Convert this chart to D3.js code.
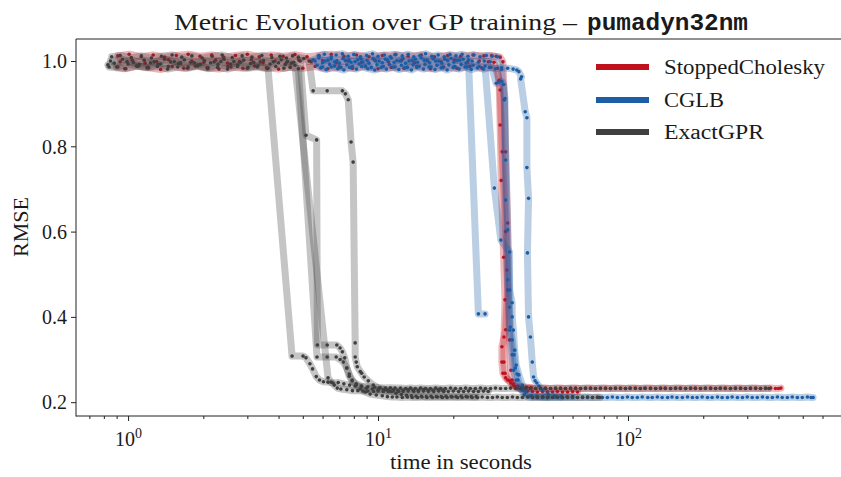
<!DOCTYPE html>
<html>
<head>
<meta charset="utf-8">
<script src="https://cdn.jsdelivr.net/npm/d3@7"></script>
<style>
  body { margin: 0; background: #fff; }
  svg text { font-family: "Liberation Serif", "Times New Roman", serif; fill: #1a1a1a; }
</style>
</head>
<body>
<svg id="chart" width="841" height="477"></svg>
<script>
// ---- Labels ----
const titleText = "Metric Evolution over GP training –";
const datasetName = "pumadyn32nm";
const xLabel = "time in seconds";
const yLabel = "RMSE";
const methods = ["StoppedCholesky", "CGLB", "ExactGPR"];
const methodColors = ["#c0121d", "#1b5ea6", "#3f3f3f"];
const yTicks = [0.2, 0.4, 0.6, 0.8, 1.0];
const xMajorTicks = [1, 10, 100];
const xMajorExponents = ["0", "1", "2"];
const xMinorTicks = [0.7, 0.8, 0.9, 2, 3, 4, 5, 6, 7, 8, 9, 20, 30, 40, 50, 60, 70, 80, 90, 200, 300, 400, 500, 600];

// ---- StoppedCholesky runs: [seconds, RMSE] ----
const cholRun1 = [[0.91,1.012],[1.01,1.016],[1.13,1.01],[1.26,1.014],[1.4,1.009],[1.56,1.013],[1.74,1.016],[1.94,1.011],[2.16,1.014],[2.41,1.009],[2.69,1.013],[3.0,1.016],[3.35,1.01],[3.74,1.014],[4.17,1.011],[4.65,1.015],[5.2,1.01],[5.8,1.013],[6.5,1.016],[7.3,1.011],[8.2,1.014],[9.2,1.01],[10.4,1.013],[11.7,1.015],[13.2,1.011],[14.9,1.014],[16.8,1.01],[19.0,1.013],[21.4,1.011],[24.0,1.014],[26.5,1.012],[28.5,1.013],[29.7,1.011],
  [30.8,1.009],[31.6,0.998],[32.0,0.909],[32.4,0.787],[33.0,0.62],[33.2,0.463],[33.6,0.346],[34.0,0.275],[34.4,0.252],[34.8,0.24],[35.7,0.236],[37.0,0.233],
  [38.9,0.232],[40.7,0.233],[42.7,0.232],[44.7,0.232],[46.8,0.233],[49.0,0.232],[51.3,0.232],[53.7,0.233],[56.2,0.232],[58.9,0.232],[61.7,0.233],[64.6,0.232],[67.6,0.232],[70.8,0.233],[74.1,0.232],[77.6,0.232],[81.3,0.233],[85.1,0.232],[89.1,0.232],[93.3,0.233],[97.7,0.232],[102,0.232],[107,0.233],[112,0.232],[117,0.232],[123,0.233],[129,0.232],[135,0.232],[141,0.233],[148,0.232],[155,0.232],[162,0.233],[170,0.232],[178,0.232],[186,0.233],[195,0.232],[204,0.232],[214,0.233],[224,0.232],[234,0.232],[245,0.233],[257,0.232],[269,0.232],[282,0.233],[295,0.232],[309,0.232],[324,0.233],[339,0.232],[355,0.232],[372,0.233],[389,0.232],[400,0.232],[409,0.233]];
const cholRun2 = [[0.93,0.998],[1.04,1.002],[1.17,0.995],[1.3,0.999],[1.45,1.003],[1.62,0.996],[1.8,1.0],[2.01,0.997],[2.24,1.002],[2.5,0.995],[2.79,0.999],[3.11,1.003],[3.47,0.996],[3.87,1.0],[4.32,0.997],[4.82,1.002],[5.4,0.998],[6.0,1.001],[6.8,0.996],[7.6,1.0],[8.6,0.997],[9.7,1.002],[11.0,0.998],[12.4,1.001],[14.0,0.996],[15.8,1.0],[17.9,0.998],[20.2,1.002],[22.8,0.997],[25.4,1.0],[27.6,0.998],[29.1,0.997],
  [30.5,0.955],[30.8,0.85],[31.1,0.72],[31.8,0.54],[32.2,0.44],[31.9,0.353],[31.9,0.294],[32.2,0.268],[33.0,0.252],[34.0,0.245],[35.1,0.238],[36.5,0.232],[38.0,0.228],[39.6,0.226],
  [41.5,0.225],[43.4,0.224],[45.5,0.225],[47.6,0.224],[49.9,0.224],[52.2,0.225],[54.7,0.224],[57.3,0.224],[60.0,0.225],[62.8,0.224]];
const cholRun3 = [[0.9,0.986],[0.98,0.982],[1.09,0.988],[1.21,0.984],[1.35,0.98],[1.5,0.987],[1.67,0.983],[1.86,0.988],[2.07,0.984],[2.31,0.981],[2.58,0.986],[2.88,0.983],[3.21,0.988],[3.58,0.984],[4.0,0.981],[4.46,0.986],[5.0,0.983],[5.6,0.987],[6.3,0.982],[7.0,0.986],[7.9,0.983],[8.9,0.987],[10.0,0.982],[11.3,0.985],[12.7,0.983],[14.3,0.987],[16.2,0.982],[18.3,0.986],[20.7,0.983],[23.3,0.987],[26.0,0.984],[28.2,0.985],[30.0,0.983],
  [30.8,0.932],[31.4,0.787],[32.4,0.6],[32.8,0.51],[33.0,0.463],[32.4,0.37],[31.3,0.33],[31.3,0.294],[31.6,0.268],[32.4,0.257],[33.6,0.25],[34.8,0.243],[36.3,0.238],[37.8,0.236],[39.4,0.235],[41.0,0.234]];

// ---- CGLB runs ----
const cglbRun1 = [[5.5,1.003],[5.81,1.007],[6.14,1.0],[6.49,1.005],[6.85,1.001],[7.24,1.006],[7.66,1.002],[8.09,0.999],[8.55,1.005],[9.04,1.001],[9.55,1.006],[10.1,1.0],[10.7,1.004],[11.3,1.007],[11.9,1.001],[12.6,1.005],[13.3,1.0],[14.1,1.004],[14.9,1.007],[15.7,1.002],[16.6,1.005],[17.5,1.0],[18.5,1.004],[19.6,1.006],[20.7,1.001],[21.9,1.004],[23.0,1.002],
  [25.2,0.407],[26.8,0.407]];
const cglbRun2 = [[5.7,0.99],[6.0,0.986],[6.4,0.992],[6.7,0.988],[7.1,0.985],[7.5,0.991],[7.9,0.987],[8.4,0.993],[8.9,0.988],[9.4,0.985],[9.9,0.991],[10.5,0.987],[11.1,0.992],[11.7,0.986],[12.4,0.99],[13.1,0.985],[13.8,0.991],[14.6,0.987],[15.4,0.992],[16.3,0.986],[17.2,0.99],[18.2,0.985],[19.2,0.991],[20.3,0.987],[21.5,0.992],[22.7,0.986],[24.0,0.99],[25.4,0.987],[26.8,0.988],
  [29.2,0.702],[31.0,0.58],[33.6,0.552],[33.6,0.423],[33.8,0.376],[34.4,0.346],[35.0,0.311],[35.4,0.28],[36.0,0.266],[36.3,0.252],[37.5,0.229],[38.4,0.217],[39.8,0.212],
  [41.5,0.211],[43.4,0.212],[45.5,0.211],[47.6,0.211],[49.9,0.212],[52.2,0.211],[54.7,0.211],[57.3,0.212],[60.0,0.211],[62.8,0.211],[65.8,0.212],[68.9,0.211],[72.1,0.211],[75.5,0.212],[79.0,0.211],[82.7,0.211],[86.6,0.212],[90.7,0.211],[95.0,0.211],[99.5,0.212],[104,0.211],[109,0.211],[114,0.212],[120,0.211],[125,0.211],[131,0.212],[137,0.211],[144,0.211],[150,0.212],[157,0.211],[165,0.211],[173,0.212],[181,0.211],[189,0.211],[198,0.212],[208,0.211],[217,0.211],[228,0.212],[238,0.211],[250,0.211],[261,0.212],[274,0.211],[287,0.211],[300,0.212],[314,0.211],[329,0.211],[345,0.212],[361,0.211],[378,0.211],[396,0.212],[414,0.211],[434,0.211],[454,0.212],[476,0.211],[498,0.211],[522,0.212],[540,0.211],[550,0.211]];
const cglbRun3 = [[5.9,0.984],[6.2,0.98],[6.5,0.986],[6.9,0.982],[7.3,0.979],[7.7,0.985],[8.2,0.981],[8.6,0.987],[9.1,0.982],[9.7,0.979],[10.3,0.985],[10.8,0.981],[11.5,0.986],[12.1,0.98],[12.8,0.984],[13.6,0.979],[14.3,0.985],[15.2,0.981],[16.0,0.986],[16.9,0.98],[17.9,0.984],[18.9,0.979],[20.0,0.985],[21.1,0.981],[22.3,0.986],[23.6,0.98],[25.0,0.984],[26.4,0.981],[27.9,0.985],[29.5,0.982],[31.2,0.984],[33.0,0.983],
  [34.7,0.981],[35.9,0.979],[36.6,0.975],[37.5,0.963],[37.2,0.958],[38.8,0.881],[39.4,0.867],[39.4,0.75],[40.0,0.678],[39.6,0.55],[40.0,0.4],[40.7,0.353],[41.4,0.294],[41.9,0.259],[42.5,0.25],[43.2,0.245],[44.0,0.238],[45.7,0.229],[47.9,0.219],[51.0,0.215],[54.0,0.214],[57.0,0.213],[60.0,0.213]];
const cglbRun4 = [[5.6,1.0],[6.0,0.996],[6.3,1.002],[6.7,0.998],[7.0,0.995],[7.4,1.001],[7.8,0.997],[8.3,1.003],[8.7,0.998],[9.2,0.995],[9.8,1.0],[10.4,0.996],[10.9,1.002],[11.6,0.997],[12.2,1.0],[12.9,0.995],[13.7,1.001],[14.4,0.997],[15.3,1.002],[16.1,0.996],[17.0,1.0],[18.0,0.995],[19.0,1.001],[20.1,0.997],[21.2,1.002],[22.5,0.996],[23.8,1.0],[25.2,0.997],[26.6,1.0],[28.1,0.998],
  [29.7,0.948],[30.3,0.95],[31.3,0.952],[31.8,0.945],[32.2,0.912],[32.4,0.768],[33.0,0.604],[33.6,0.463],[34.4,0.433],[34.4,0.4],[34.8,0.369],[35.2,0.322],[35.7,0.287],[36.6,0.264],[37.8,0.24],[39.1,0.224],[41.3,0.215],[43.5,0.213],[45.8,0.212],[48.0,0.212]];
const cglbRun5 = [[5.8,1.012],[6.1,1.016],[6.5,1.01],[6.8,1.014],[7.2,1.017],[7.6,1.011],[8.0,1.015],[8.5,1.01],[9.0,1.013],[9.5,1.017],[10.0,1.011],[10.6,1.014],[11.2,1.01],[11.8,1.015],[12.5,1.012],[13.2,1.016],[13.9,1.01],[14.7,1.013],[15.5,1.017],[16.4,1.011],[17.4,1.014],[18.4,1.01],[19.4,1.015],[20.5,1.012],[21.7,1.016],[22.9,1.011],[24.2,1.014],[25.6,1.01],[27.1,1.013],[28.6,1.011],[30.0,1.01],
  [31.2,0.98],[32.0,0.909],[32.4,0.674],[33.0,0.487],[33.6,0.369],[34.4,0.311],[34.8,0.275],[35.7,0.252],[37.0,0.233],[38.8,0.222],[40.7,0.215],[43.0,0.214],[45.5,0.213],[48.0,0.213],[51.0,0.212],[54.0,0.212]];

// ---- ExactGPR runs ----
const exactRun1 = [[0.83,0.991],[0.91,0.986],[1.0,0.993],[1.1,0.988],[1.2,0.985],[1.32,0.992],[1.45,0.987],[1.59,0.994],[1.74,0.986],[1.9,0.99],[2.09,0.984],[2.29,0.992],[2.51,0.987],[2.75,0.991],[3.02,0.985],[3.31,0.989],[3.63,0.983],
  [4.53,0.308],[5.01,0.308],[5.15,0.304],[5.34,0.29],[5.47,0.278],[5.66,0.26],[5.83,0.252],[6.05,0.248],[6.31,0.247],[6.61,0.245],[6.93,0.246],[7.3,0.243],[7.7,0.24],[8.1,0.238],[8.6,0.237],[9.1,0.236],[9.7,0.235],
  [10.2,0.234],[10.7,0.233],[11.2,0.234],[11.7,0.233],[12.3,0.233],[12.9,0.232],[13.5,0.233],[14.1,0.232],[14.8,0.233],[15.5,0.232],[16.2,0.232],[17.0,0.233],[17.8,0.232],[18.6,0.232],[19.5,0.233],[20.4,0.232],[21.4,0.232],[22.4,0.233],[23.4,0.232],[24.5,0.232],[25.7,0.233],[26.9,0.232],[28.2,0.232],[29.5,0.233],[30.9,0.232],[32.4,0.232],[33.9,0.233],[35.5,0.232],[37.2,0.232],[38.9,0.233],[40.7,0.232],[42.7,0.232],[44.7,0.233],[46.8,0.232],[49.0,0.232],[51.3,0.233],[53.7,0.232],[56.2,0.232],[58.9,0.233],[61.7,0.232],[64.6,0.232],[67.6,0.233],[70.8,0.232],[74.1,0.232],[77.6,0.233],[81.3,0.232],[85.1,0.232],[89.1,0.233],[93.3,0.232],[97.7,0.232],[102,0.233],[107,0.232],[112,0.232],[117,0.233],[123,0.232],[129,0.232],[135,0.233],[141,0.232],[148,0.232],[155,0.233],[162,0.232],[170,0.232],[178,0.233],[186,0.232],[195,0.232],[204,0.233],[214,0.232],[224,0.232],[234,0.233],[245,0.232],[257,0.232],[269,0.233],[282,0.232],[295,0.232],[309,0.233],[324,0.232],[339,0.232],[355,0.233],[366,0.232]];
const exactRun2 = [[0.85,1.0],[0.95,1.004],[1.05,0.997],[1.16,1.002],[1.27,0.998],[1.4,1.004],[1.53,0.999],[1.68,1.003],[1.84,0.996],[2.02,1.001],[2.21,0.998],[2.42,1.004],[2.65,0.999],[2.9,1.002],[3.18,0.997],[3.48,1.001],[3.81,0.998],[4.1,1.003],[4.35,0.999],[4.6,0.997],[4.88,1.0],
  [5.15,0.826],[5.68,0.815],[5.72,0.334],[6.26,0.334],[6.84,0.334],[7.05,0.327],[7.2,0.318],[7.36,0.304],[7.5,0.28],[7.67,0.261],[7.88,0.25],[8.18,0.243],[8.57,0.238],[8.97,0.233],[9.48,0.231],[10.0,0.229],
  [10.5,0.229],[11.0,0.228],[11.5,0.229],[12.0,0.228],[12.6,0.228],[13.2,0.229],[13.8,0.228],[14.5,0.228],[15.2,0.229],[15.9,0.228],[16.6,0.228],[17.4,0.229],[18.2,0.228]];
const exactRun3 = [[0.84,0.986],[0.97,0.982],[1.08,0.988],[1.19,0.984],[1.31,0.987],[1.44,0.981],[1.58,0.986],[1.73,0.983],[1.9,0.988],[2.08,0.982],[2.28,0.985],[2.5,0.981],[2.74,0.987],[3.0,0.983],[3.29,0.986],[3.6,0.982],[3.9,0.987],[4.2,0.983],[4.45,0.985],[4.8,0.982],
  [5.7,0.306],[6.26,0.306],[6.8,0.306],[7.05,0.3],[7.26,0.294],[7.5,0.28],[7.67,0.266],[7.88,0.252],[8.18,0.24],[8.49,0.231],[8.9,0.224],[9.3,0.219],[9.84,0.217],[10.4,0.215],[10.9,0.213],[11.4,0.212],[11.9,0.212],[12.5,0.211],
  [13.1,0.212],[13.7,0.211],[14.4,0.211],[15.0,0.212],[15.7,0.211],[16.5,0.211],[17.3,0.212],[18.1,0.211],[18.9,0.211],[19.8,0.212],[20.8,0.211],[21.7,0.211],[22.8,0.212],[23.8,0.211],[25.0,0.211],[26.1,0.212],[27.4,0.211],[28.7,0.211],[30.0,0.212],[31.4,0.211],[32.9,0.211],[34.5,0.212],[36.1,0.211],[37.8,0.211],[39.6,0.212],[41.5,0.211],[43.4,0.211],[45.5,0.212],[47.6,0.211],[49.9,0.211],[52.2,0.212],[54.7,0.211],[57.3,0.211],[60.0,0.212],[62.8,0.211],[65.8,0.211],[68.9,0.212],[72.1,0.211],[75.5,0.211],[77.0,0.211]];
const exactRun4 = [[0.86,1.01],[0.93,1.013],[1.03,1.008],[1.13,1.012],[1.24,1.007],[1.36,1.011],[1.5,1.014],[1.64,1.009],[1.8,1.012],[1.98,1.007],[2.17,1.011],[2.38,1.014],[2.61,1.008],[2.86,1.012],[3.13,1.009],[3.43,1.013],[3.76,1.008],[4.05,1.011],[4.3,1.007],[4.55,1.012],[4.8,1.009],[5.05,1.006],[5.3,1.0],
  [5.5,0.93],[6.26,0.93],[7.2,0.93],[7.4,0.923],[7.6,0.909],[7.8,0.81],[7.95,0.763],[8.1,0.339],[8.1,0.306],[8.18,0.294],[8.26,0.283],[8.49,0.272],[8.6,0.268],[8.8,0.259],[9.14,0.25],[9.57,0.24],[10.1,0.233],[10.8,0.229],
  [11.3,0.225],[11.8,0.221],[12.4,0.218],[13.0,0.216],[13.6,0.215],[14.2,0.214],[14.9,0.214],[15.6,0.213],[16.3,0.214],[17.1,0.213],[17.9,0.213],[18.7,0.214],[19.6,0.213],[20.5,0.213],[21.5,0.214],[22.5,0.213],[23.6,0.213],[24.7,0.213]];
const exactRun5 = [[0.88,0.995],[0.99,0.999],[1.11,0.992],[1.23,0.996],[1.35,0.993],[1.48,0.998],[1.62,0.994],[1.78,0.997],[1.95,0.992],[2.14,0.996],[2.35,0.999],[2.57,0.993],[2.82,0.997],[3.09,0.994],[3.38,0.998],[3.7,0.993],[4.0,0.996],[4.25,0.992],[4.5,0.995],[4.65,0.99],
  [6.31,0.257],[6.5,0.247],[6.68,0.24],[6.87,0.233],[7.1,0.231],[7.5,0.229],[7.9,0.227],[8.3,0.227],[8.7,0.226],[9.1,0.226],[9.6,0.225],[10.0,0.226],[10.5,0.225],[11.0,0.225],[11.5,0.226],[12.1,0.225],[12.6,0.225],[13.2,0.226],[13.9,0.225],[14.5,0.225],[15.2,0.226],[15.9,0.225],[16.7,0.225],[17.5,0.226],[18.3,0.225],[19.1,0.225],[20.0,0.226],[21.0,0.225],[22.0,0.225],[23.0,0.226],[24.1,0.225],[25.2,0.225],[26.4,0.226],[27.6,0.225]];

const runsByMethod = [
  [cholRun1, cholRun2, cholRun3],
  [cglbRun1, cglbRun2, cglbRun3, cglbRun4, cglbRun5],
  [exactRun1, exactRun2, exactRun3, exactRun4, exactRun5]
];

// ---- Layout ----
const W = 841, H = 477;
const plotLeft = 76, plotTop = 39, plotBottom = 416, plotRight = 838;
const svg = d3.select("#chart");

const x = d3.scaleLog().domain([0.619, 692]).range([plotLeft, plotRight]);
const y = d3.scaleLinear().domain([0.1676, 1.0516]).range([plotBottom, plotTop]);

svg.append("defs").append("clipPath").attr("id", "plotArea")
  .append("rect").attr("x", plotLeft).attr("y", plotTop).attr("width", W - plotLeft).attr("height", plotBottom - plotTop);

// ---- Traces: translucent wide line plus a dot at every logged step ----
const line = d3.line().x(d => x(d[0])).y(d => y(d[1]));
const plot = svg.append("g").attr("clip-path", "url(#plotArea)");
methods.forEach((m, i) => {
  const g = plot.append("g").attr("class", "method");
  runsByMethod[i].forEach(run => {
    g.append("path").datum(run)
      .attr("d", line)
      .attr("fill", "none")
      .attr("stroke", methodColors[i])
      .attr("stroke-opacity", 0.3)
      .attr("stroke-width", 7)
      .attr("stroke-linejoin", "round")
      .attr("stroke-linecap", "round");
    g.append("g").selectAll("circle").data(run).join("circle")
      .attr("cx", d => x(d[0]))
      .attr("cy", d => y(d[1]))
      .attr("r", 1.8)
      .attr("fill", methodColors[i]);
  });
});

// ---- Axes ----
const yAxis = d3.axisLeft(y).tickValues(yTicks).tickFormat(d3.format(".1f")).tickSize(5).tickPadding(4);
const gy = svg.append("g").attr("transform", `translate(${plotLeft},0)`).call(yAxis);
gy.select(".domain").remove();
gy.selectAll(".tick line").attr("stroke", "#222");
gy.selectAll(".tick text").attr("font-size", 20).attr("font-family", "Liberation Serif, serif").attr("fill", "#1a1a1a").attr("dy", "0.34em");

const xMinorAxis = d3.axisBottom(x).tickValues(xMinorTicks).tickFormat("").tickSize(3);
const gxm = svg.append("g").attr("transform", `translate(0,${plotBottom})`).call(xMinorAxis);
gxm.select(".domain").remove();
gxm.selectAll(".tick line").attr("stroke", "#222");

const xAxis = d3.axisBottom(x).tickValues(xMajorTicks).tickFormat("").tickSize(5);
const gx = svg.append("g").attr("transform", `translate(0,${plotBottom})`).call(xAxis);
gx.select(".domain").remove();
gx.selectAll(".tick line").attr("stroke", "#222");
gx.selectAll(".tick").each(function(d, i) {
  const t = d3.select(this).append("text")
    .attr("x", 0).attr("y", 30)
    .attr("text-anchor", "middle")
    .attr("font-size", 20)
    .attr("fill", "#1a1a1a");
  t.append("tspan").text("10");
  t.append("tspan").attr("dy", -8).attr("font-size", 14).text(xMajorExponents[i]);
});

// spines
svg.append("line").attr("x1", plotLeft).attr("x2", plotLeft).attr("y1", plotTop).attr("y2", plotBottom + 0.5).attr("stroke", "#222").attr("stroke-width", 1);
svg.append("line").attr("x1", plotLeft).attr("x2", W).attr("y1", plotBottom).attr("y2", plotBottom).attr("stroke", "#222").attr("stroke-width", 1);
svg.append("line").attr("x1", plotLeft).attr("x2", W).attr("y1", plotTop).attr("y2", plotTop).attr("stroke", "#222").attr("stroke-width", 1);

// ---- Axis titles ----
svg.append("text").attr("x", 461).attr("y", 469).attr("text-anchor", "middle")
  .attr("font-size", 20).attr("textLength", 142).attr("lengthAdjust", "spacingAndGlyphs").text(xLabel);
svg.append("text").attr("transform", "translate(28,227) rotate(-90)").attr("text-anchor", "middle")
  .attr("font-size", 20).attr("textLength", 60).attr("lengthAdjust", "spacingAndGlyphs").text(yLabel);

// ---- Title ----
svg.append("text").attr("x", 174).attr("y", 30)
  .attr("font-size", 24).attr("textLength", 403).attr("lengthAdjust", "spacingAndGlyphs").text(titleText);
svg.append("text").attr("x", 587).attr("y", 30)
  .attr("font-size", 23).attr("font-weight", "bold")
  .style("font-family", "'Liberation Mono', 'DejaVu Sans Mono', monospace")
  .attr("textLength", 161).attr("lengthAdjust", "spacingAndGlyphs").text(datasetName);

// ---- Legend ----
const legendRows = [67, 100, 132];
const legendWidths = [161, 60, 100];
const legend = svg.append("g");
methods.forEach((m, i) => {
  legend.append("line").attr("x1", 596).attr("x2", 649)
    .attr("y1", legendRows[i]).attr("y2", legendRows[i])
    .attr("stroke", methodColors[i]).attr("stroke-width", 6);
  legend.append("text").attr("x", 664).attr("y", legendRows[i] + 7)
    .attr("font-size", 20).attr("textLength", legendWidths[i]).attr("lengthAdjust", "spacingAndGlyphs").text(m);
});
</script>
</body>
</html>
